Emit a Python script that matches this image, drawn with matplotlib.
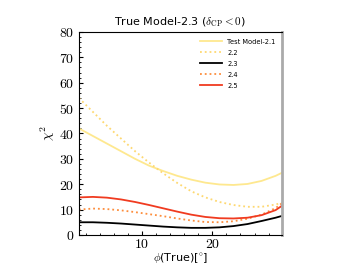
import numpy as np
import matplotlib
matplotlib.use("Agg")
import matplotlib.pyplot as plt
from matplotlib.ticker import MultipleLocator, FuncFormatter

plt.rcParams["mathtext.fontset"] = "cm"
plt.rcParams["font.family"] = ["DejaVu Sans"]

phi = [1, 3, 5, 7, 9, 11, 13, 15, 17, 19, 21, 23, 25, 27, 29, 29.9]
chi_21 = [42, 39, 36, 33, 30, 27.3, 25.2, 23.3, 21.8, 20.6, 19.9, 19.7, 20.1, 21.3, 23.3, 24.5]
chi_22 = [54, 48.5, 43, 38, 33, 28.5, 24.3, 20.5, 17.2, 14.8, 13.0, 11.8, 11.1, 11.1, 12.0, 12.7]
chi_23 = [5.0, 5.0, 4.8, 4.5, 4.1, 3.7, 3.3, 3.0, 2.8, 2.8, 3.0, 3.5, 4.3, 5.5, 6.8, 7.5]
chi_24 = [10.0, 10.4, 10.2, 9.7, 9.0, 8.2, 7.4, 6.5, 5.7, 5.1, 5.0, 5.4, 6.4, 8.0, 10.6, 12.5]
chi_25 = [14.8, 15.0, 14.7, 14.0, 13.0, 11.8, 10.5, 9.2, 8.0, 7.1, 6.6, 6.5, 6.8, 7.8, 9.8, 11.5]

labels = ["Test Model-2.1", "2.2", "2.3", "2.4", "2.5"]
colors = ["#fee88f", "#fed870", "black", "#fd8d3c", "#f03b20"]
styles = ["-", ":", "-", ":", "-"]

fig = plt.figure(figsize=(3.52, 2.64), dpi=100)
ax = fig.add_axes([0.224, 0.110, 0.577, 0.769])

for y, lab, c, ls in zip([chi_21, chi_22, chi_23, chi_24, chi_25], labels, colors, styles):
    ax.plot(phi, y, color=c, linestyle=ls, lw=1.3, label=lab)

ax.set_xlim(1, 29.9)
ax.set_ylim(0, 80)
ax.xaxis.set_major_locator(MultipleLocator(10))
ax.xaxis.set_minor_locator(MultipleLocator(2))
ax.yaxis.set_major_locator(MultipleLocator(10))
ax.yaxis.set_minor_locator(MultipleLocator(2))
fmt = FuncFormatter(lambda v, p: r"$%d$" % v)
ax.xaxis.set_major_formatter(fmt)
ax.yaxis.set_major_formatter(fmt)
ax.tick_params(which="both", direction="in", labelsize=10)
ax.tick_params(which="major", length=3)
ax.tick_params(which="minor", length=1.5)
ax.tick_params(axis="x", pad=1.5)
ax.spines["right"].set_color("#aaaaaa")
ax.spines["right"].set_linewidth(2)

ax.set_xlabel(r"$\phi$(True)[$^{\circ}$]", fontsize=8, labelpad=0)
ax.set_ylabel(r"$\chi^2$", fontsize=10, labelpad=1)
ax.set_title(r"True Model-2.3 ($\delta_{\rm CP}<0$)", fontsize=8, pad=5)
ax.legend(loc="upper right", frameon=False, fontsize=4.8, handlelength=3.2,
          labelspacing=0.75, borderaxespad=0.6)

fig.savefig("out.png", dpi=100)
